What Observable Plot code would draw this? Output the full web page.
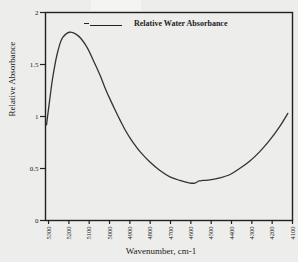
<!DOCTYPE html>
<html>
<head>
<meta charset="utf-8">
<script src="https://cdn.jsdelivr.net/npm/d3@7"></script>
<script src="https://cdn.jsdelivr.net/npm/@observablehq/plot@0.6"></script>
<style>
  html, body { margin: 0; padding: 0; background: #ededeb; }
  #wrap { position: relative; width: 298px; height: 262px; overflow: hidden; }
  .legend { position: absolute; font-family: "Liberation Serif", serif; font-weight: bold; font-size: 8px; color: #222; white-space: nowrap; }
</style>
</head>
<body>
<div id="wrap"></div>
<script>
const wavenumber = [5310, 5295, 5279, 5254, 5230, 5197, 5157, 5115, 5075, 5045, 5021, 4996, 4972, 4947, 4923, 4898, 4873, 4849, 4800, 4752, 4703, 4654, 4605, 4580, 4560, 4540, 4507, 4458, 4409, 4360, 4311, 4262, 4213, 4164, 4123];
const absorbance = [0.92, 1.15, 1.38, 1.63, 1.76, 1.81, 1.78, 1.68, 1.52, 1.39, 1.27, 1.16, 1.06, 0.96, 0.87, 0.79, 0.72, 0.66, 0.56, 0.48, 0.42, 0.385, 0.36, 0.36, 0.38, 0.385, 0.39, 0.41, 0.44, 0.50, 0.57, 0.66, 0.77, 0.90, 1.03];
const xTicks = [5300, 5200, 5100, 5000, 4900, 4800, 4700, 4600, 4500, 4400, 4300, 4200, 4100];
const yTicks = [0, 0.5, 1, 1.5, 2];
const seriesName = "Relative Water Absorbance";
const xTitle = "Wavenumber, cm-1";
const yTitle = "Relative Absorbance";

const data = wavenumber.map((w, i) => ({w, a: absorbance[i]}));

const chart = Plot.plot({
  width: 298,
  height: 262,
  marginLeft: 45,
  marginRight: 6,
  marginTop: 12,
  marginBottom: 42,
  style: {background: "#ededeb", fontFamily: "Liberation Serif, serif", color: "#222"},
  x: {domain: [5315, 4100]},
  y: {domain: [0, 2]},
  marks: [
    Plot.frame({stroke: "#222", strokeWidth: 1.4}),
    Plot.axisY({ticks: yTicks, tickFormat: d => String(d), tickSize: 5, tickPadding: 2, fontSize: 7, label: null, stroke: "#222", strokeWidth: 1.2}),
    Plot.axisX({ticks: xTicks, tickFormat: d => String(d), tickRotate: -90, tickSize: 4, tickPadding: 2, fontSize: 6.5, label: null, stroke: "#222", strokeWidth: 1.2}),
    Plot.text([yTitle], {frameAnchor: "left", dx: -33, rotate: -90, fontSize: 9, fill: "#222"}),
    Plot.text([xTitle], {frameAnchor: "bottom", dy: 33, dx: -8, fontSize: 9, fill: "#222"}),
    Plot.line(data, {x: "w", y: "a", curve: "catmull-rom", stroke: "#333", strokeWidth: 1.3})
  ]
});
const wrap = document.getElementById("wrap");
wrap.appendChild(chart);

// legend overlay
const patch = document.createElement("div");
patch.style.cssText = "position:absolute;left:91px;top:0;width:50px;height:11px;background:#f4f4f2;";
wrap.appendChild(patch);
const dash = document.createElement("div");
dash.style.cssText = "position:absolute;left:84px;top:23px;width:5px;height:1.3px;background:#222;";
wrap.appendChild(dash);
const sample = document.createElement("div");
sample.style.cssText = "position:absolute;left:90px;top:25px;width:32px;height:1.3px;background:#222;";
wrap.appendChild(sample);
const lab = document.createElement("div");
lab.className = "legend";
lab.style.left = "134px";
lab.style.top = "19px";
lab.textContent = seriesName;
wrap.appendChild(lab);
</script>
</body>
</html>
